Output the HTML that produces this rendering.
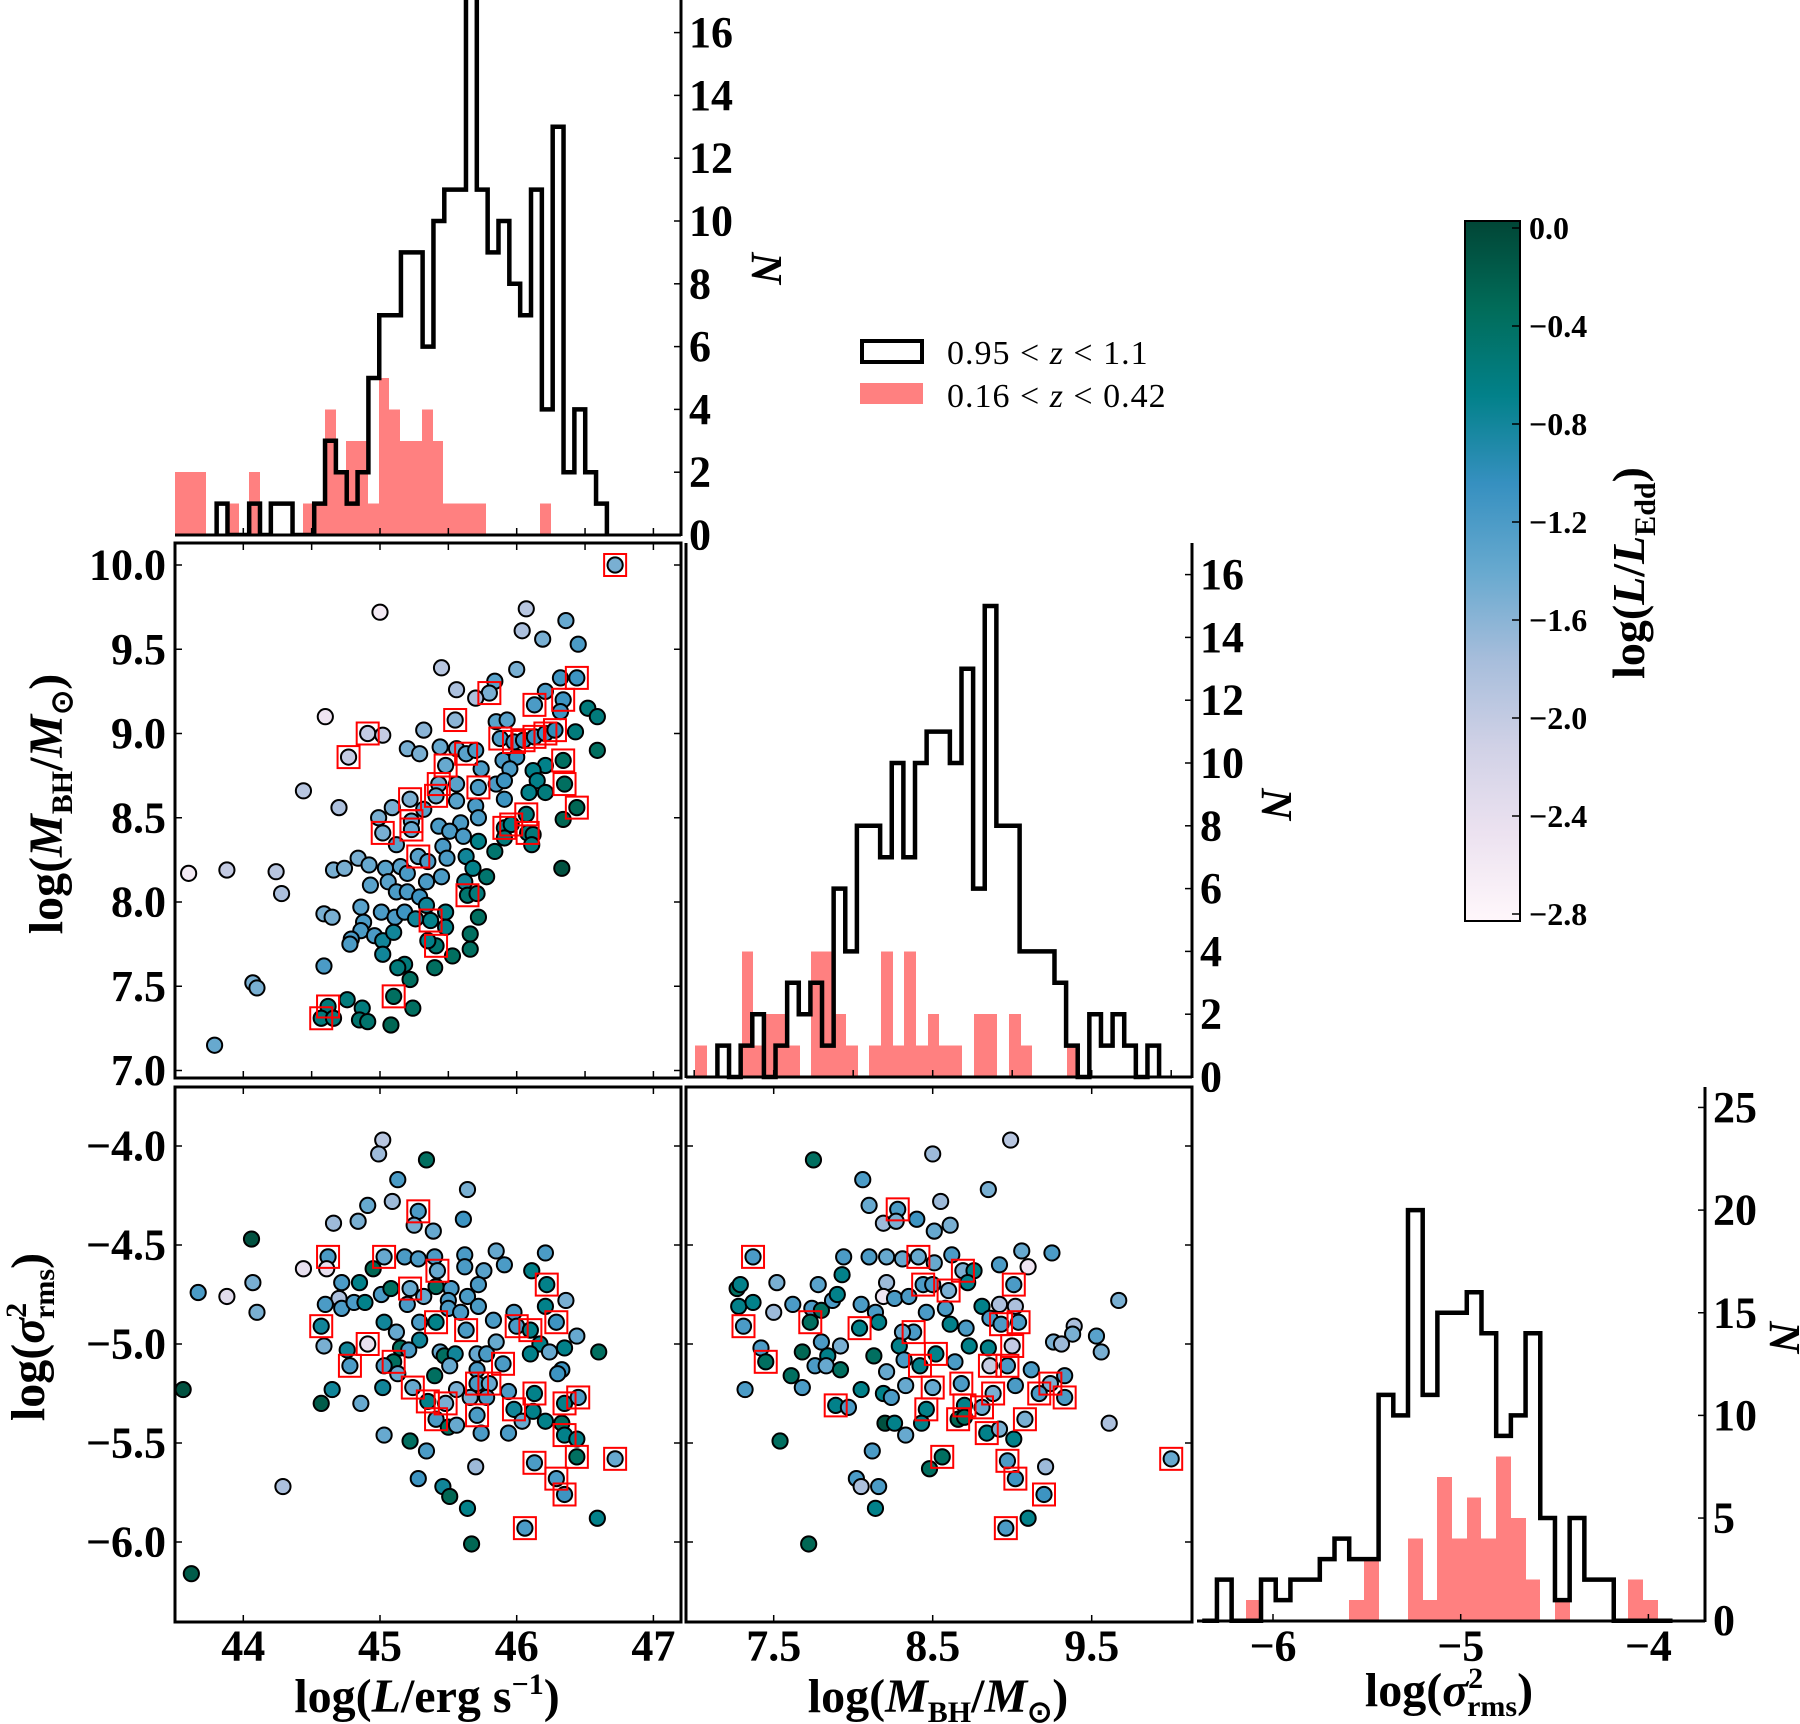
<!DOCTYPE html>
<html><head><meta charset="utf-8"><style>
html,body{margin:0;padding:0;background:#fff;}
svg{display:block;font-family:"Liberation Serif",serif;font-weight:bold;}
</style></head><body>
<svg id="fig" xmlns="http://www.w3.org/2000/svg" width="1800" height="1724" viewBox="0 0 1800 1724">
<defs>
<linearGradient id="cmap" x1="0" y1="1" x2="0" y2="0">
<stop offset="0" stop-color="#fff7fb"/><stop offset="0.125" stop-color="#ece2f0"/><stop offset="0.25" stop-color="#d0d1e6"/><stop offset="0.375" stop-color="#a6bddb"/><stop offset="0.5" stop-color="#67a9cf"/><stop offset="0.625" stop-color="#3690c0"/><stop offset="0.75" stop-color="#02818a"/><stop offset="0.875" stop-color="#016c59"/><stop offset="1" stop-color="#014636"/>
</linearGradient>
<clipPath id="clipT"><rect x="175" y="0" width="506" height="536"/></clipPath>
<clipPath id="clipA"><rect x="175" y="543" width="506" height="535"/></clipPath>
<clipPath id="clipB"><rect x="175" y="1087" width="506" height="535"/></clipPath>
<clipPath id="clipC"><rect x="686" y="1087" width="506" height="535"/></clipPath>
</defs>
<g id="layer-hist"></g><g id="layer-pts"></g><g id="layer-axes"></g>
<g>
<rect x="862" y="341" width="60" height="21" fill="none" stroke="#000" stroke-width="4"/>
<text x="947" y="364" font-size="34" font-weight="normal" letter-spacing="1">0.95 &lt; <tspan font-style="italic">z</tspan> &lt; 1.1</text>
<rect x="860" y="383" width="63" height="21" fill="#ff8080"/>
<text x="947" y="407" font-size="34" font-weight="normal" letter-spacing="1">0.16 &lt; <tspan font-style="italic">z</tspan> &lt; 0.42</text>
</g>
<g>
<rect x="1465" y="221" width="55" height="700" fill="url(#cmap)" stroke="#000" stroke-width="2"/>
<g id="cbticks"></g>
<text transform="translate(1644,573) rotate(-90)" text-anchor="middle" font-size="46">log(<tspan font-style="italic">L</tspan>/<tspan font-style="italic">L</tspan><tspan font-size="30" dy="11">Edd</tspan><tspan dy="-11">)</tspan></text>
</g>
<text x="427" y="1712" text-anchor="middle" font-size="48">log(<tspan font-style="italic">L</tspan>/erg s<tspan font-size="30" dy="-18">−1</tspan><tspan dy="18">)</tspan></text>
<text x="938" y="1712" text-anchor="middle" font-size="48">log(<tspan font-style="italic">M</tspan><tspan font-size="30" dy="10">BH</tspan><tspan dy="-10">/</tspan><tspan font-style="italic">M</tspan><tspan font-size="30" dy="10">⊙</tspan><tspan dy="-10">)</tspan></text>
<text x="1449" y="1706" text-anchor="middle" font-size="48">log(<tspan font-style="italic">σ</tspan><tspan font-size="30" dy="-18">2</tspan><tspan font-size="30" dx="-16" dy="28">rms</tspan><tspan dy="-10">)</tspan></text>
<text transform="translate(62,804) rotate(-90)" text-anchor="middle" font-size="48">log(<tspan font-style="italic">M</tspan><tspan font-size="30" dy="10">BH</tspan><tspan dy="-10">/</tspan><tspan font-style="italic">M</tspan><tspan font-size="30" dy="10">⊙</tspan><tspan dy="-10">)</tspan></text>
<text transform="translate(44,1337) rotate(-90)" text-anchor="middle" font-size="48">log(<tspan font-style="italic">σ</tspan><tspan font-size="30" dy="-18">2</tspan><tspan font-size="30" dx="-16" dy="28">rms</tspan><tspan dy="-10">)</tspan></text>
<text transform="translate(752,268) rotate(90)" text-anchor="middle" font-size="44" font-style="italic">N</text>
<text transform="translate(1262,804) rotate(90)" text-anchor="middle" font-size="44" font-style="italic">N</text>
<text transform="translate(1770,1337) rotate(90)" text-anchor="middle" font-size="44" font-style="italic">N</text>
</svg>
<script>
// ---- histogram data ----
var lumBinStart = 43.805, lumBinWidth = 0.0793;
var lumCountsHighZ = [1,0,0,1,0,1,1,0,0,1,3,2,1,2,5,7,7,9,9,6,10,11,11,18,11,9,10,8,7,11,4,13,2,4,2,1];
var lumRedStart = 43.493, lumRedWidth = 0.0788;
var lumCountsLowZ = [2,2,2,0,0,1,0,2,0,0,0,0,1,1,4,2,3,3,1,5,4,3,3,4,3,1,1,1,1,0,0,0,0,0,1];
var massBinStart = 7.146, massBinWidth = 0.0731;
var massCountsHighZ = [1,0,1,2,0,1,3,2,3,1,6,4,8,8,7,10,7,10,11,11,10,13,6,15,8,8,4,4,4,3,1,0,2,1,2,1,0,1];
var massRedStart = 7.006, massRedWidth = 0.0731;
var massCountsLowZ = [1,0,0,0,4,1,2,2,1,0,4,4,2,1,0,1,4,1,4,1,2,1,1,0,2,2,0,2,1,0,0,0,1];
var varBinStart = -6.377, varBinWidth = 0.0783;
var varCountsHighZ = [0,2,0,0,2,1,2,2,3,4,3,3,11,10,20,11,15,15,16,14,9,10,14,5,1,5,2,2,0,0,0,0];
var varRedStart = -6.142, varRedWidth = 0.0783;
var varCountsLowZ = [1,0,0,0,0,0,0,1,3,0,0,4,1,7,4,6,4,8,5,2,0,1,0,0,0,0,2,1];
// ---- scatter data: [x, y, logEdd, boxed] ----
var ptsLumMass = [[46.72,10.0,-1.5,1],[45.0,9.72,-2.6,0],[46.07,9.74,-1.9,0],[46.36,9.67,-1.4,0],[46.04,9.61,-1.8,0],[46.19,9.56,-1.5,0],[46.45,9.53,-1.2,0],[45.45,9.39,-1.9,0],[46.0,9.38,-1.5,0],[46.32,9.33,-1.1,0],[46.44,9.33,-1.1,1],[45.84,9.31,-1.3,0],[45.56,9.26,-1.8,0],[45.8,9.24,-1.5,1],[45.7,9.21,-1.8,0],[46.21,9.25,-1.2,0],[46.13,9.17,-1.2,1],[46.34,9.2,-1.1,1],[46.52,9.15,-0.6,0],[46.59,9.1,-0.6,0],[44.6,9.1,-2.5,0],[45.55,9.08,-1.6,1],[44.91,9.0,-2.0,1],[45.02,8.99,-2.0,0],[45.32,9.02,-1.6,0],[45.85,9.07,-1.3,0],[45.93,9.08,-1.3,0],[46.32,9.13,-1.1,0],[46.43,9.01,-0.6,0],[46.59,8.9,-0.4,0],[44.77,8.86,-2.0,1],[45.2,8.91,-1.5,0],[45.29,8.88,-1.5,0],[45.44,8.92,-1.4,0],[45.56,8.91,-1.4,0],[45.63,8.88,-1.3,1],[45.7,8.9,-1.2,0],[45.88,8.97,-1.2,1],[45.98,8.95,-1.2,1],[46.05,8.96,-1.1,1],[46.13,8.98,-1.1,1],[46.21,9.0,-1.1,1],[46.28,9.02,-1.0,1],[45.9,8.84,-1.2,0],[46.0,8.86,-1.1,0],[46.34,8.84,-0.4,1],[46.21,8.81,-0.7,0],[46.12,8.78,-0.7,0],[45.48,8.81,-1.4,1],[45.74,8.79,-1.2,0],[45.95,8.79,-1.2,0],[44.44,8.66,-1.9,0],[44.7,8.56,-1.8,0],[45.43,8.7,-1.4,1],[45.56,8.7,-1.3,0],[45.72,8.68,-1.2,1],[45.85,8.7,-1.2,0],[45.91,8.72,-1.1,0],[46.15,8.72,-0.7,0],[46.09,8.65,-0.7,0],[46.21,8.65,-0.6,0],[46.35,8.7,-0.4,1],[46.44,8.56,-0.3,1],[46.34,8.49,-0.3,0],[45.22,8.61,-1.5,1],[45.41,8.63,-1.4,1],[45.09,8.56,-1.5,0],[45.32,8.55,-1.3,0],[45.56,8.6,-1.3,0],[45.7,8.57,-1.2,0],[45.91,8.61,-1.1,0],[44.99,8.5,-1.5,0],[45.23,8.48,-1.4,1],[45.43,8.45,-1.2,0],[45.59,8.47,-1.2,0],[45.72,8.5,-1.2,0],[45.91,8.44,-0.7,1],[45.96,8.46,-0.7,1],[46.07,8.52,-0.6,1],[46.08,8.41,-0.6,1],[46.12,8.4,-0.6,0],[45.02,8.41,-1.5,1],[45.23,8.43,-1.4,1],[45.12,8.34,-1.3,0],[45.51,8.42,-1.2,0],[45.61,8.39,-1.2,0],[45.72,8.36,-0.7,0],[45.84,8.3,-0.5,0],[46.11,8.34,-0.6,0],[45.91,8.38,-0.6,0],[43.6,8.17,-2.6,0],[43.88,8.19,-2.0,0],[44.24,8.18,-1.9,0],[44.28,8.05,-1.8,0],[44.66,8.19,-1.5,0],[44.74,8.2,-1.5,0],[44.84,8.26,-1.5,0],[44.92,8.22,-1.4,0],[45.04,8.2,-1.3,0],[45.15,8.21,-1.3,0],[45.28,8.27,-1.3,1],[45.35,8.24,-1.2,0],[45.46,8.33,-1.2,0],[45.49,8.26,-1.2,0],[45.63,8.27,-0.8,0],[45.68,8.2,-0.7,0],[45.78,8.15,-0.5,0],[46.33,8.2,-0.1,0],[44.93,8.1,-1.3,0],[45.06,8.12,-1.3,0],[45.2,8.17,-1.2,0],[45.34,8.12,-1.2,0],[45.45,8.15,-1.2,0],[45.62,8.12,-0.8,0],[45.64,8.04,-0.5,1],[45.71,8.05,-0.6,0],[45.12,8.06,-1.2,0],[45.2,8.06,-1.2,0],[45.29,8.03,-1.1,0],[44.59,7.93,-1.5,0],[44.65,7.91,-1.5,0],[44.86,7.97,-1.3,0],[45.01,7.94,-1.2,0],[45.11,7.91,-1.2,0],[45.18,7.94,-1.1,0],[45.34,7.98,-0.8,0],[45.48,7.94,-0.7,0],[45.37,7.89,-0.7,1],[45.72,7.91,-0.4,0],[45.26,7.9,-0.8,0],[44.88,7.88,-1.2,0],[44.86,7.83,-1.2,0],[44.96,7.8,-1.2,0],[44.79,7.78,-1.2,0],[44.78,7.75,-1.2,0],[45.02,7.77,-0.8,0],[45.1,7.82,-0.8,0],[45.02,7.69,-0.8,0],[45.48,7.85,-0.7,0],[45.66,7.81,-0.4,0],[45.66,7.72,-0.4,0],[45.41,7.74,-0.5,1],[45.35,7.77,-0.7,0],[45.53,7.68,-0.4,0],[44.59,7.62,-1.2,0],[45.18,7.63,-0.6,0],[45.13,7.61,-0.6,0],[45.4,7.61,-0.4,0],[45.22,7.54,-0.4,0],[44.07,7.52,-1.5,0],[44.1,7.49,-1.5,0],[45.1,7.44,-0.4,1],[44.76,7.42,-0.6,0],[44.87,7.37,-0.6,0],[45.24,7.37,-0.4,0],[44.62,7.38,-0.6,1],[44.57,7.31,-0.6,1],[44.66,7.31,-0.6,0],[44.85,7.3,-0.5,0],[44.91,7.29,-0.5,0],[45.08,7.27,-0.3,0],[43.79,7.15,-1.4,0]];
var ptsLumVar = [[45.02,-3.97,-1.9,0],[44.99,-4.04,-1.7,0],[45.34,-4.07,-0.4,0],[45.13,-4.17,-1.2,0],[45.64,-4.22,-1.5,0],[44.91,-4.3,-1.4,0],[45.09,-4.28,-1.7,0],[45.28,-4.33,-1.2,1],[44.84,-4.38,-1.5,0],[44.66,-4.39,-1.7,0],[45.25,-4.4,-1.5,0],[45.39,-4.43,-1.4,0],[45.61,-4.37,-1.1,0],[44.06,-4.47,-0.1,0],[44.62,-4.56,-1.2,1],[44.44,-4.62,-2.4,0],[44.61,-4.62,-2.4,0],[44.95,-4.62,-0.3,0],[45.03,-4.56,-1.4,1],[45.18,-4.56,-1.2,0],[45.28,-4.57,-1.2,0],[45.4,-4.56,-1.2,0],[45.42,-4.63,-1.4,1],[45.62,-4.55,-1.2,0],[45.62,-4.61,-1.2,0],[45.85,-4.53,-1.4,0],[45.91,-4.6,-1.2,0],[45.76,-4.63,-1.3,0],[46.21,-4.54,-1.2,0],[46.11,-4.63,-0.7,0],[46.22,-4.7,-0.7,1],[44.07,-4.69,-1.5,0],[43.67,-4.74,-1.2,0],[43.88,-4.76,-2.3,0],[44.1,-4.84,-1.5,0],[44.72,-4.69,-1.2,0],[44.85,-4.69,-0.7,0],[44.7,-4.77,-1.8,0],[44.6,-4.8,-1.2,0],[44.72,-4.82,-1.2,0],[44.81,-4.79,-1.2,0],[44.89,-4.79,-0.7,0],[45.01,-4.75,-1.2,0],[45.08,-4.72,-0.4,0],[45.22,-4.72,-1.4,1],[45.32,-4.76,-1.4,0],[45.41,-4.71,-0.4,0],[45.52,-4.72,-1.2,0],[45.2,-4.8,-1.2,0],[45.5,-4.78,-1.2,0],[45.64,-4.76,-1.2,0],[45.72,-4.7,-1.2,0],[46.36,-4.78,-1.5,0],[46.21,-4.81,-0.7,0],[44.57,-4.91,-0.8,1],[45.03,-4.89,-0.8,0],[45.12,-4.94,-1.4,0],[45.29,-4.89,-1.2,0],[45.41,-4.89,-0.7,1],[45.5,-4.82,-1.2,0],[45.59,-4.84,-1.2,0],[45.72,-4.81,-1.2,0],[45.63,-4.93,-1.2,1],[45.83,-4.88,-1.2,0],[45.98,-4.84,-1.2,0],[46.0,-4.91,-1.2,1],[46.1,-4.93,-0.7,1],[46.29,-4.89,-1.1,1],[46.44,-4.96,-1.4,0],[44.59,-5.01,-1.5,0],[44.76,-5.03,-0.8,0],[44.91,-5.0,-2.4,1],[45.29,-4.98,-0.8,0],[45.15,-5.02,-0.4,0],[45.21,-5.03,-1.2,0],[45.85,-4.99,-1.4,0],[46.17,-5.0,-0.7,0],[46.35,-5.02,-0.7,0],[46.6,-5.04,-0.4,0],[44.78,-5.11,-1.2,1],[45.1,-5.09,-0.4,1],[45.03,-5.11,-1.2,0],[45.13,-5.15,-1.4,0],[45.44,-5.04,-1.4,0],[45.47,-5.06,-0.4,0],[45.55,-5.05,-0.8,0],[45.51,-5.11,-1.4,0],[45.71,-5.05,-1.4,0],[45.78,-5.05,-1.2,0],[45.9,-5.1,-1.2,1],[46.1,-5.05,-0.7,0],[46.24,-5.04,-1.4,0],[46.33,-5.13,-1.1,0],[46.3,-5.15,-1.1,0],[45.4,-5.16,-0.4,0],[45.71,-5.13,-1.2,0],[43.56,-5.23,-0.1,0],[44.65,-5.23,-0.8,0],[44.57,-5.3,-0.2,0],[44.86,-5.3,-1.4,0],[45.02,-5.22,-0.8,0],[45.24,-5.22,-1.4,1],[45.35,-5.29,-0.7,1],[45.48,-5.3,-1.5,1],[45.56,-5.23,-1.5,0],[45.66,-5.27,-1.5,0],[45.71,-5.2,-1.2,1],[45.8,-5.2,-1.4,1],[45.94,-5.24,-1.2,0],[46.13,-5.25,-0.7,1],[46.35,-5.3,-0.7,1],[46.45,-5.27,-1.2,1],[45.78,-5.27,-1.2,0],[45.41,-5.38,-1.2,1],[45.5,-5.42,-0.4,0],[45.56,-5.41,-1.4,0],[45.71,-5.36,-1.2,1],[45.74,-5.45,-1.2,0],[45.98,-5.33,-0.8,1],[46.04,-5.39,-1.4,0],[45.94,-5.45,-1.2,0],[46.12,-5.34,-0.7,0],[46.21,-5.39,-0.7,0],[46.33,-5.4,-0.4,0],[46.35,-5.46,-0.7,1],[46.44,-5.48,-0.7,0],[45.03,-5.46,-1.4,0],[45.22,-5.49,-0.4,0],[45.34,-5.54,-1.2,0],[46.13,-5.6,-1.2,1],[46.44,-5.57,-0.4,1],[46.72,-5.58,-1.4,1],[45.7,-5.62,-1.7,0],[46.29,-5.68,-1.2,1],[46.35,-5.76,-1.1,1],[44.29,-5.72,-1.8,0],[45.28,-5.68,-1.1,0],[45.46,-5.72,-0.8,0],[45.51,-5.77,-0.3,0],[45.64,-5.83,-0.7,0],[46.59,-5.88,-0.7,0],[46.06,-5.93,-1.2,1],[45.67,-6.01,-0.3,0],[43.62,-6.16,-0.2,0]];
var ptsMassVar = [[8.99,-3.97,-1.9,0],[8.5,-4.04,-1.7,0],[7.75,-4.07,-0.4,0],[8.06,-4.17,-1.2,0],[8.85,-4.22,-1.5,0],[8.1,-4.3,-1.4,0],[8.55,-4.28,-1.7,0],[8.28,-4.32,-1.2,1],[8.19,-4.39,-1.7,0],[8.27,-4.38,-1.5,0],[8.4,-4.37,-1.1,0],[8.51,-4.43,-1.4,0],[8.61,-4.4,-1.5,0],[7.37,-4.56,-1.2,1],[7.94,-4.56,-1.2,0],[8.1,-4.56,-1.2,0],[8.21,-4.56,-1.4,0],[8.31,-4.57,-1.4,0],[8.41,-4.56,-1.4,1],[8.51,-4.59,-1.4,0],[8.62,-4.55,-1.2,0],[8.69,-4.63,-1.5,1],[8.76,-4.63,-0.7,0],[8.92,-4.6,-1.2,0],[9.06,-4.53,-1.4,0],[9.25,-4.54,-1.2,0],[9.1,-4.61,-2.5,0],[7.93,-4.65,-0.7,0],[7.27,-4.72,-0.4,0],[7.29,-4.7,-0.7,0],[7.52,-4.69,-1.5,0],[7.78,-4.7,-1.3,0],[8.21,-4.69,-1.7,0],[8.44,-4.7,-1.2,1],[8.5,-4.7,-1.2,0],[8.6,-4.73,-1.5,1],[8.72,-4.69,-0.7,0],[9.01,-4.7,-1.2,1],[9.67,-4.78,-1.5,0],[7.28,-4.81,-0.7,0],[7.37,-4.79,-0.7,0],[7.5,-4.84,-1.7,0],[7.62,-4.8,-1.2,0],[7.74,-4.82,-1.2,0],[7.8,-4.83,-0.4,0],[7.87,-4.78,-1.2,0],[7.9,-4.75,-0.7,0],[8.05,-4.8,-1.2,0],[8.14,-4.84,-1.2,0],[8.19,-4.76,-2.5,0],[8.26,-4.77,-1.2,0],[8.35,-4.76,-1.2,0],[8.46,-4.84,-1.2,0],[8.58,-4.82,-1.2,0],[8.81,-4.81,-0.7,0],[8.92,-4.8,-1.8,0],[9.02,-4.81,-1.8,0],[8.86,-4.87,-1.2,0],[7.31,-4.91,-1.2,1],[7.73,-4.89,-0.4,1],[8.04,-4.92,-0.7,1],[8.16,-4.89,-0.7,0],[8.38,-4.94,-1.2,1],[8.31,-4.94,-1.4,0],[8.61,-4.9,-0.7,0],[8.71,-4.92,-1.2,0],[8.93,-4.9,-1.2,1],[9.04,-4.89,-1.2,1],[9.39,-4.91,-1.8,0],[9.38,-4.95,-1.5,0],[9.53,-4.96,-1.3,0],[9.26,-4.99,-1.5,0],[9.31,-5.0,-1.7,0],[9.56,-5.04,-1.5,0],[7.42,-5.02,-1.2,0],[7.45,-5.09,-0.4,1],[7.68,-5.04,-0.3,0],[7.8,-4.99,-1.2,0],[7.92,-5.01,-1.5,0],[7.84,-5.06,-0.7,0],[7.76,-5.11,-1.2,0],[7.83,-5.11,-1.4,0],[7.92,-5.13,-0.4,0],[8.13,-5.06,-0.4,0],[8.29,-5.01,-0.7,0],[8.32,-5.08,-1.2,0],[8.52,-5.05,-0.7,1],[8.42,-5.11,-0.7,1],[8.64,-5.09,-1.2,0],[8.73,-5.01,-0.7,0],[8.85,-5.02,-0.7,0],[9.0,-5.01,-2.0,1],[8.86,-5.11,-2.0,1],[8.97,-5.11,-1.2,1],[9.12,-5.13,-1.2,0],[9.33,-5.16,-1.2,0],[9.24,-5.2,-1.5,1],[8.21,-5.14,-1.4,0],[7.32,-5.23,-1.2,0],[7.61,-5.16,-0.4,0],[7.68,-5.22,-1.2,0],[8.05,-5.23,-0.7,0],[8.19,-5.25,-0.7,0],[8.24,-5.27,-1.2,0],[8.33,-5.21,-1.4,0],[8.5,-5.22,-1.4,1],[8.68,-5.2,-1.2,1],[8.88,-5.25,-1.5,1],[9.02,-5.21,-1.2,0],[9.17,-5.25,-1.2,1],[9.33,-5.27,-1.2,1],[7.89,-5.31,-0.7,1],[7.97,-5.32,-1.2,0],[8.46,-5.33,-0.7,1],[8.7,-5.31,-0.7,1],[8.81,-5.32,-1.4,1],[8.66,-5.38,-0.3,1],[8.7,-5.37,-0.4,0],[9.08,-5.38,-1.5,1],[8.2,-5.4,-0.1,0],[8.26,-5.4,-0.7,0],[8.43,-5.4,-0.7,0],[8.33,-5.46,-1.4,0],[8.84,-5.45,-0.7,1],[8.92,-5.43,-1.5,0],[9.01,-5.48,-0.7,0],[9.61,-5.4,-1.8,0],[7.54,-5.49,-0.4,0],[8.12,-5.54,-1.2,0],[8.56,-5.57,-0.4,1],[8.48,-5.63,-0.4,0],[8.97,-5.59,-1.2,1],[9.21,-5.62,-1.7,0],[10.0,-5.58,-1.4,1],[8.02,-5.68,-1.2,0],[8.05,-5.72,-1.8,0],[8.16,-5.72,-1.2,0],[9.02,-5.68,-1.1,1],[9.2,-5.76,-1.1,1],[8.14,-5.83,-0.7,0],[9.1,-5.88,-0.7,0],[8.96,-5.93,-1.2,1],[7.72,-6.01,-0.3,0]];
// ---- tick labels ----
var lumTicks = [44,45,46,47];
var massYTicks = ["7.0","7.5","8.0","8.5","9.0","9.5","10.0"];
var varYTicks = ["−4.0","−4.5","−5.0","−5.5","−6.0"];
var massXTicks = ["7.5","8.5","9.5"];
var varXTicks = ["−6","−5","−4"];
var countTicksSmall = [0,2,4,6,8,10,12,14,16];
var countTicksVar = [0,5,10,15,20,25];
var cbarTicks = ["0.0","−0.4","−0.8","−1.2","−1.6","−2.0","−2.4","−2.8"];

// ---- scales ----
function xL(v){return 380+(v-45)*136.7;}
function yM(v){return 565+(10-v)*168.5;}
function yS(v){return 1146+(-4-v)*198;}
function xM(v){return 773.7+(v-7.5)*159;}
function xS(v){return 1273+(v+6)*187.7;}
function yT(n){return 535-n*31.4;}
function yD(n){return 1077-n*31.4;}
function yE(n){return 1620.7-n*20.53;}
function num(s){return parseFloat(String(s).replace('−','-'));}

var NS="http://www.w3.org/2000/svg";
function mk(tag,attrs,parent){var e=document.createElementNS(NS,tag);for(var k in attrs)e.setAttribute(k,attrs[k]);parent.appendChild(e);return e;}
var stops=[[0,[255,247,251]],[0.125,[236,226,240]],[0.25,[208,209,230]],[0.375,[166,189,219]],[0.5,[103,169,207]],[0.625,[54,144,192]],[0.75,[2,129,138]],[0.875,[1,108,89]],[1,[1,70,54]]];
function cmap(v){var t=Math.max(0,Math.min(1,(v+2.8)/2.8));for(var i=0;i<stops.length-1;i++){if(t<=stops[i+1][0]){var a=stops[i],b=stops[i+1],f=(t-a[0])/(b[0]-a[0]);var c=a[1].map(function(x,j){return Math.round(x+(b[1][j]-x)*f);});return 'rgb('+c.join(',')+')';}}return 'rgb(1,70,54)';}

var H=document.getElementById('layer-hist'),P=document.getElementById('layer-pts'),A=document.getElementById('layer-axes');

function drawHist(name,clip,start,width,counts,xf,yf,isStep){
  var g=mk('g',{'clip-path':clip?'url(#'+clip+')':''},H);
  
  
  if(isStep){
    var d='M'+xf(start)+','+yf(0);
    for(var i=0;i<counts.length;i++){var x0=xf(start+i*width),x1=xf(start+(i+1)*width);d+=' L'+x0+','+yf(counts[i])+' L'+x1+','+yf(counts[i]);}
    d+=' L'+xf(start+counts.length*width)+','+yf(0);
    var p=mk('path',{d:d,fill:'none',stroke:'#000','stroke-width':4.5,'stroke-linejoin':'miter'},g);
    
    
  } else {
    for(var j=0;j<counts.length;j++){if(!counts[j])continue;var xa=Math.round(xf(start+j*width)),xb=Math.round(xf(start+(j+1)*width));
      var r=mk('rect',{x:xa,y:yf(counts[j]),width:xb-xa,height:yf(0)-yf(counts[j]),fill:'#ff8080','shape-rendering':'crispEdges'},g);
      
      }
  }
}
drawHist('lum-hist-low-z','clipT',lumRedStart,lumRedWidth,lumCountsLowZ,xL,yT,false);
drawHist('lum-hist-high-z','clipT',lumBinStart,lumBinWidth,lumCountsHighZ,xL,yT,true);
drawHist('mass-hist-low-z',null,massRedStart,massRedWidth,massCountsLowZ,xM,yD,false);
drawHist('mass-hist-high-z',null,massBinStart,massBinWidth,massCountsHighZ,xM,yD,true);
drawHist('var-hist-low-z',null,varRedStart,varRedWidth,varCountsLowZ,xS,yE,false);
drawHist('var-hist-high-z',null,varBinStart,varBinWidth,varCountsHighZ,xS,yE,true);

function drawPts(name,clip,pts,xf,yf){
  var g=mk('g',{'clip-path':'url(#'+clip+')'},P);
  
  
  pts.forEach(function(p){var c=mk('circle',{cx:xf(p[0]),cy:yf(p[1]),r:7.6,fill:cmap(p[2]),stroke:'#000','stroke-width':2},g);
    
    });
  pts.forEach(function(p){if(!p[3])return;var s=mk('rect',{x:xf(p[0])-11,y:yf(p[1])-11,width:22,height:22,fill:'none',stroke:'#ff0000','stroke-width':2},g);
    
    });
}
drawPts('scatter-lum-mass','clipA',ptsLumMass,xL,yM);
drawPts('scatter-lum-var','clipB',ptsLumVar,xL,yS);
drawPts('scatter-mass-var','clipC',ptsMassVar,xM,yS);

function line(x1,y1,x2,y2,w,name){var l=mk('line',{x1:x1,y1:y1,x2:x2,y2:y2,stroke:'#000','stroke-width':w},A);
  
  return l;}
function txt(x,y,s,anchor,size,name){var t=mk('text',{x:x,y:y,'text-anchor':anchor,'font-size':size,'dominant-baseline':'central'},A);t.textContent=s;
  
  return t;}
function frame(x0,y0,x1,y1,name){var r=mk('rect',{x:x0,y:y0,width:x1-x0,height:y1-y0,fill:'none',stroke:'#000','stroke-width':3},A);
  
  }
var TL=7, FS=44, XLY=1646;
// panel A
frame(175,543,681,1078,'panel-lum-mass-frame');
for(var v=44;v<=47.01;v+=0.5){var x=xL(v);line(x,1078,x,1078-TL,1.5,'x-tick');line(x,543,x,543+TL,1.5,'x-tick');}
massYTicks.forEach(function(s){var y=yM(num(s));line(175,y,175+TL,y,1.5,'y-tick');line(681,y,681-TL,y,1.5,'y-tick');txt(166,y,s,'end',FS,'y-tick-label');});
// panel B
frame(175,1087,681,1622,'panel-lum-var-frame');
lumTicks.forEach(function(v){var x=xL(v);line(x,1622,x,1622-TL,1.5,'x-tick');line(x,1087,x,1087+TL,1.5,'x-tick');txt(x,XLY,String(v),'middle',FS,'x-tick-label');});
varYTicks.forEach(function(s){var y=yS(num(s));line(175,y,175+TL,y,1.5,'y-tick');line(681,y,681-TL,y,1.5,'y-tick');txt(166,y,s,'end',FS,'y-tick-label');});
// panel C
frame(686,1087,1192,1622,'panel-mass-var-frame');
massXTicks.forEach(function(s){var x=xM(num(s));line(x,1622,x,1622-TL,1.5,'x-tick');line(x,1087,x,1087+TL,1.5,'x-tick');txt(x,XLY,s,'middle',FS,'x-tick-label');});
varYTicks.forEach(function(s){var y=yS(num(s));line(686,y,686+TL,y,1.5,'y-tick');line(1192,y,1192-TL,y,1.5,'y-tick');});
// top hist
line(175,535,681,535,3,'top-hist-x-axis');line(681,0,681,536,3,'top-hist-right-axis');
for(var v2=44;v2<=47.01;v2+=0.5){var x2=xL(v2);line(x2,535,x2,535-TL,1.5,'x-tick');}
countTicksSmall.forEach(function(n){var y=yT(n);line(681,y,681-TL,y,1.5,'y-tick');txt(689,y,String(n),'start',FS,'count-tick-label');});
// mass hist
line(686,1077,1192,1077,3,'mass-hist-x-axis');line(1192,543,1192,1078,3,'mass-hist-right-axis');line(686,543,686,1078,3,'mass-hist-left-axis');
for(var v3=7.0;v3<=10.01;v3+=0.5){var x3=xM(v3);line(x3,1077,x3,1077-TL,1.5,'x-tick');}
countTicksSmall.forEach(function(n){var y=yD(n);line(1192,y,1192-TL,y,1.5,'y-tick');txt(1200,y,String(n),'start',FS,'count-tick-label');});
// var hist
line(1197,1621,1705,1621,3,'var-hist-x-axis');line(1705,1087,1705,1622,3,'var-hist-right-axis');
varXTicks.forEach(function(s){var x=xS(num(s));line(x,1621,x,1621-TL,1.5,'x-tick');txt(x,XLY,s,'middle',FS,'x-tick-label');});
countTicksVar.forEach(function(n){var y=yE(n);line(1705,y,1705-TL,y,1.5,'y-tick');txt(1713,y,String(n),'start',FS,'count-tick-label');});
// colorbar ticks
var CB=document.getElementById('cbticks');
cbarTicks.forEach(function(s){var v=num(s);var y=228+(0-v)/2.8*686;
  var l=mk('line',{x1:1512,y1:y,x2:1520,y2:y,stroke:'#000','stroke-width':1.5},CB);
  
  
  var t=mk('text',{x:1529,y:y,'font-size':32,'dominant-baseline':'central'},CB);t.textContent=s;
  
  });
</script>
</body></html>
